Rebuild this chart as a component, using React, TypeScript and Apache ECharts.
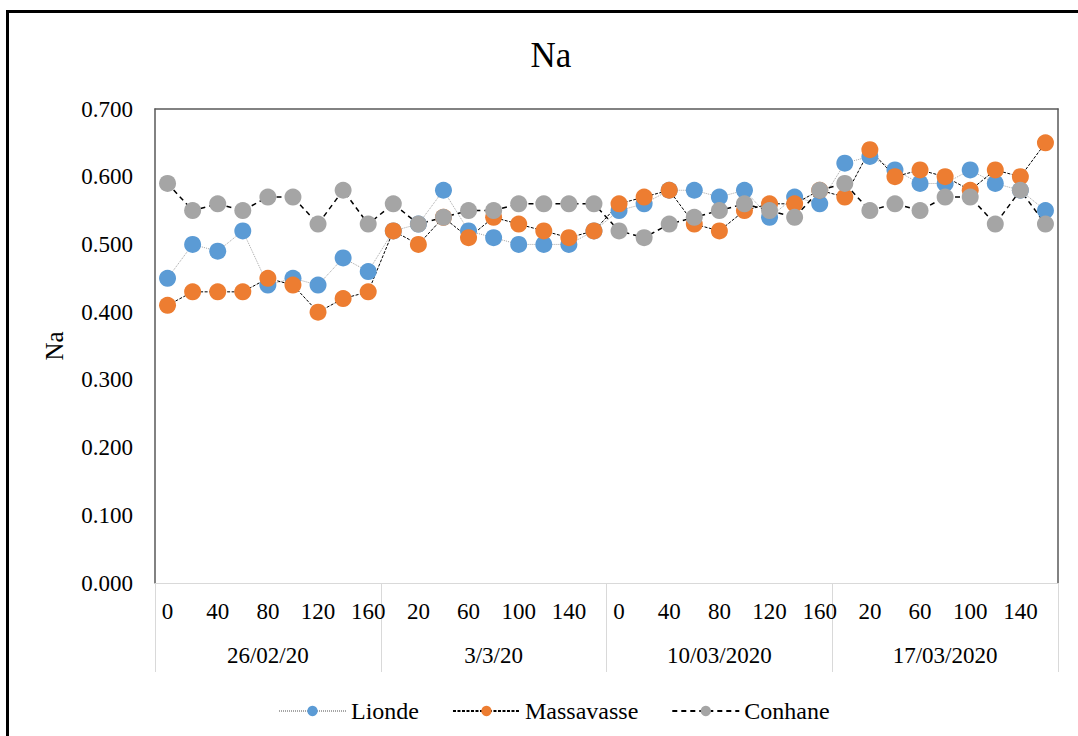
import React, { useEffect, useRef } from "react";
import * as echarts from "echarts";

const timeLabels = ["0", "20", "40", "60", "80", "100", "120", "140", "160"];
const dates = ["26/02/20", "3/3/20", "10/03/2020", "17/03/2020"];

const lionde = [
  0.45, 0.5, 0.49, 0.52, 0.44, 0.45, 0.44, 0.48, 0.46,
  0.52, 0.53, 0.58, 0.52, 0.51, 0.5, 0.5, 0.5, 0.52,
  0.55, 0.56, 0.58, 0.58, 0.57, 0.58, 0.54, 0.57, 0.56,
  0.62, 0.63, 0.61, 0.59, 0.59, 0.61, 0.59, 0.58, 0.55,
];
const massavasse = [
  0.41, 0.43, 0.43, 0.43, 0.45, 0.44, 0.4, 0.42, 0.43,
  0.52, 0.5, 0.54, 0.51, 0.54, 0.53, 0.52, 0.51, 0.52,
  0.56, 0.57, 0.58, 0.53, 0.52, 0.55, 0.56, 0.56, 0.58,
  0.57, 0.64, 0.6, 0.61, 0.6, 0.58, 0.61, 0.6, 0.65,
];
const conhane = [
  0.59, 0.55, 0.56, 0.55, 0.57, 0.57, 0.53, 0.58, 0.53,
  0.56, 0.53, 0.54, 0.55, 0.55, 0.56, 0.56, 0.56, 0.56,
  0.52, 0.51, 0.53, 0.54, 0.55, 0.56, 0.55, 0.54, 0.58,
  0.59, 0.55, 0.56, 0.55, 0.57, 0.57, 0.53, 0.58, 0.53,
];

const FONT = "'Liberation Serif', 'Times New Roman', serif";

export default function App() {
  const ref = useRef<HTMLDivElement>(null);
  useEffect(() => {
    if (!ref.current) return;
    const chart = echarts.init(ref.current, null, { renderer: "svg" });
    const categories = dates.flatMap((d) => timeLabels.map((t) => t));
    const frame = "#595959";
    const sep = "#D9D9D9";
    chart.setOption({
      animation: false,
      backgroundColor: "#fff",
      textStyle: { fontFamily: FONT, color: "#000" },
      title: {
        text: "Na",
        left: 546,
        textAlign: "center",
        top: 33,
        textStyle: { fontFamily: FONT, fontSize: 35, fontWeight: "normal", color: "#000" },
      },
      graphic: [
        {
          type: "rect",
          shape: { x: 7.5, y: 11.5, width: 1300, height: 900 },
          style: { fill: "none", stroke: "#000", lineWidth: 3 },
          silent: true,
        },
      ],
      legend: {
        left: 273,
        top: 694,
        itemWidth: 67,
        itemHeight: 13,
        itemGap: 33,
        textStyle: { fontFamily: FONT, fontSize: 24, color: "#000" },
        data: ["Lionde", "Massavasse", "Conhane"],
      },
      grid: { left: 155, right: 20, top: 109, bottom: 153, containLabel: false },
      xAxis: [
        {
          type: "category",
          data: categories,
          position: "bottom",
          boundaryGap: true,
          axisLine: { show: true, lineStyle: { color: sep, width: 1 } },
          axisTick: { show: false },
          axisLabel: { interval: 1, margin: 17, fontFamily: FONT, fontSize: 23, color: "#000" },
          splitLine: { show: false },
        },
        {
          type: "category",
          data: dates,
          position: "bottom",
          boundaryGap: true,
          axisLine: { show: false },
          axisTick: { show: true, alignWithLabel: false, length: 89, lineStyle: { color: sep, width: 1 } },
          axisLabel: { interval: 0, margin: 61, fontFamily: FONT, fontSize: 23, color: "#000" },
          splitLine: { show: false },
        },
        {
          type: "category",
          data: categories,
          position: "top",
          axisLine: { show: true, lineStyle: { color: frame, width: 1.5 } },
          axisTick: { show: false },
          axisLabel: { show: false },
          splitLine: { show: false },
        },
      ],
      yAxis: [
        {
          type: "value",
          min: 0,
          max: 0.7,
          interval: 0.1,
          name: "Na",
          nameLocation: "middle",
          nameGap: 88,
          nameRotate: 90,
          nameTextStyle: { fontFamily: FONT, fontSize: 25, color: "#000" },
          axisLine: { show: true, lineStyle: { color: frame, width: 1.5 } },
          axisTick: { show: false },
          axisLabel: {
            margin: 22,
            fontFamily: FONT,
            fontSize: 23,
            color: "#000",
            formatter: (v: number) => v.toFixed(3),
          },
          splitLine: { show: false },
        },
        {
          type: "value",
          min: 0,
          max: 0.7,
          interval: 0.1,
          position: "right",
          axisLine: { show: true, lineStyle: { color: frame, width: 1.5 } },
          axisTick: { show: false },
          axisLabel: { show: false },
          splitLine: { show: false },
        },
      ],
      series: [
        {
          name: "Lionde",
          type: "line",
          data: lionde,
          symbol: "circle",
          symbolSize: 17,
          showAllSymbol: true,
          itemStyle: { color: "#5B9BD5" },
          lineStyle: { color: "#A6A6A6", width: 1, type: [1, 1] },
        },
        {
          name: "Massavasse",
          type: "line",
          data: massavasse,
          symbol: "circle",
          symbolSize: 17,
          showAllSymbol: true,
          itemStyle: { color: "#ED7D31" },
          lineStyle: { color: "#000", width: 1, type: [3, 1.5] },
        },
        {
          name: "Conhane",
          type: "line",
          data: conhane,
          symbol: "circle",
          symbolSize: 17,
          showAllSymbol: true,
          itemStyle: { color: "#A5A5A5" },
          lineStyle: { color: "#000", width: 1.5, type: [5, 4] },
        },
      ],
    });
    return () => chart.dispose();
  }, []);
  return (
    <div
      ref={ref}
      style={{ position: "fixed", left: 0, top: 0, width: 1078, height: 736 }}
    />
  );
}
